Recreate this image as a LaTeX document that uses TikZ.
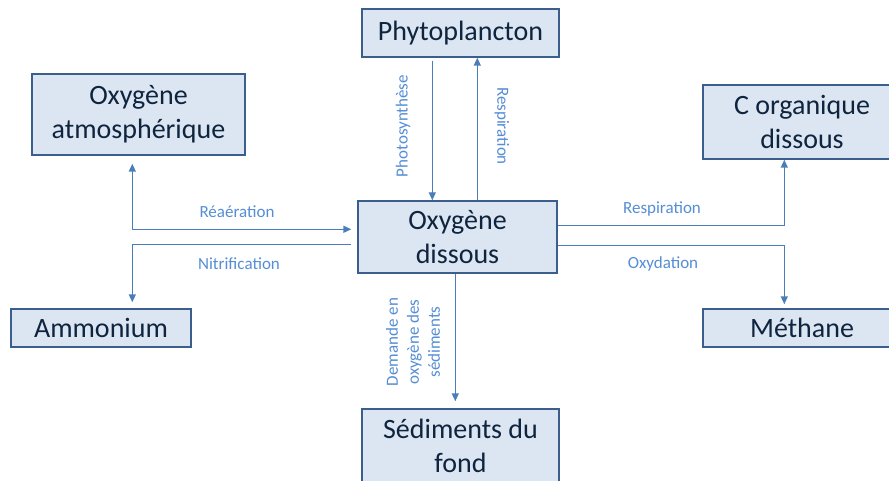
\documentclass[tikz,border=0pt]{standalone}
\usepackage{fontspec}
\setmainfont{Carlito}
\usetikzlibrary{arrows.meta}
\definecolor{boxfill}{HTML}{DCE6F2}
\definecolor{boxline}{HTML}{3B5E8C}
\definecolor{boxtext}{HTML}{0F243E}
\definecolor{flowline}{HTML}{4A7EBB}
\definecolor{flowtext}{HTML}{558ED5}
\begin{document}
\begin{tikzpicture}[x=1pt,y=-1pt,
  pool/.style={draw=boxline,fill=boxfill,line width=1.4pt,text=boxtext,
    inner sep=0pt,align=center,font=\fontsize{28}{34}\selectfont},
  flow/.style={draw=flowline,line width=1.4pt,
    -{Triangle[length=8pt,width=7pt]}},
  both/.style={draw=flowline,line width=1.4pt,
    {Triangle[length=8pt,width=7pt]}-{Triangle[length=8pt,width=7pt]}},
  tag/.style={text=flowtext,inner sep=0pt,align=center,
    font=\fontsize{17}{21}\selectfont}]
\useasboundingbox (0,0) rectangle (889,481);
\clip (0,0) rectangle (889,481);
\fill[white] (0,0) rectangle (889,481);

% compartments
\node[pool,minimum width=197pt,minimum height=48pt] (phyto) at (460.5,33) {Phytoplancton};
\node[pool,minimum width=213pt,minimum height=81pt] (atmo) at (138.5,114.5) {Oxygène\\atmosphérique};
\node[pool,minimum width=180pt,minimum height=38pt] (ammon) at (101,328) {Ammonium};
\node[pool,minimum width=199pt,minimum height=72pt] (dissous) at (457.5,237) {Oxygène\\dissous};
\node[pool,minimum width=197pt,minimum height=74pt] (sed) at (460.5,446) {Sédiments du\\fond};
\node[pool,minimum width=198pt,minimum height=74pt] (corg) at (802,122) {C organique\\dissous};
\node[pool,minimum width=198pt,minimum height=38pt] (meth) at (802,328) {Méthane};

% exchanges with the phytoplankton
\draw[flow,shorten <=3pt] ([xshift=71pt]phyto.south west) -- ([xshift=75pt]dissous.north west);
\draw[flow] ([xshift=120pt]dissous.north west) -- ([xshift=116pt]phyto.south west);

% reaeration and nitrification
\draw[both,shorten <=8pt,shorten >=6pt] ([xshift=101pt]atmo.south west) |- ([yshift=-29pt]dissous.north west);
\draw[flow,shorten <=6pt,shorten >=6pt] ([yshift=-44pt]dissous.north west) -| ([xshift=122pt]ammon.north west);

% respiration and oxidation
\draw[flow] ([yshift=-25pt]dissous.north east) -| ([xshift=82pt]corg.south west);
\draw[flow,shorten >=4pt] ([yshift=-45pt]dissous.north east) -| ([xshift=82pt]meth.north west);

% sediment oxygen demand
\draw[flow,shorten >=7pt] ([xshift=98pt]dissous.south west) -- ([xshift=94pt]sed.north west);

% process labels
\node[tag] (lreae) at (237,212) {Réaération};
\node[tag] (lnitr) at (239,264) {Nitrification};
\node[tag] (lresp) at (662,209) {Respiration};
\node[tag] (loxyd) at (663,264) {Oxydation};
\node[tag,rotate=90] (lphot) at (403,126) {Photosynthèse};
\node[tag,rotate=-90] (lrespv) at (502,126) {Respiration};
\node[tag,rotate=90] (ldem) at (413,342) {Demande en\\oxygène des\\sédiments};
\end{tikzpicture}
\end{document}
